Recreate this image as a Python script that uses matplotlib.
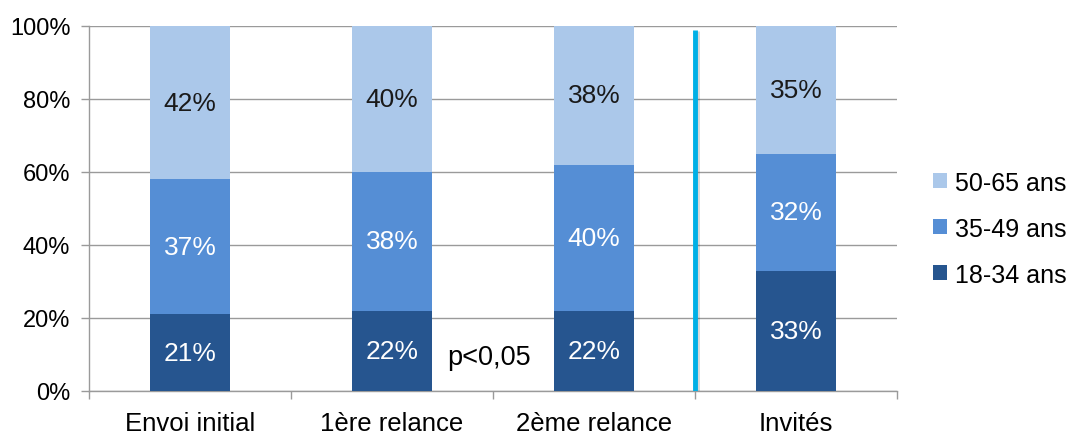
import matplotlib
matplotlib.use("Agg")
import matplotlib.pyplot as plt
import numpy as np
from matplotlib.patches import Patch
import matplotlib.patheffects as pe

plt.rcParams['font.family'] = ['Liberation Sans', 'DejaVu Sans']

categories = ["Envoi initial", "1ère relance", "2ème relance", "Invités"]
age_18_34 = [21, 22, 22, 33]
age_35_49 = [37, 38, 40, 32]
age_50_65 = [42, 40, 38, 35]
series_labels = ["18-34 ans", "35-49 ans", "50-65 ans"]
colors = ["#26558F", "#558ED5", "#ABC8EA"]
text_colors = ["white", "white", "#1a1a1a"]
y_ticks = [0, 20, 40, 60, 80, 100]
y_tick_labels = ["0%", "20%", "40%", "60%", "80%", "100%"]
note = "p<0,05"

fig = plt.figure(figsize=(10.75, 4.35), dpi=100)
ax = fig.add_axes([0.0828, 0.0989, 0.7516, 0.8391])

x = np.arange(len(categories))
width = 0.4
bottom = np.zeros(len(categories))
handles = []
for vals, lab, col, tcol in zip([age_18_34, age_35_49, age_50_65], series_labels, colors, text_colors):
    vals = np.array(vals, dtype=float)
    ax.bar(x, vals, width, bottom=bottom, color=col, zorder=3)
    for xi, b, v in zip(x, bottom, vals):
        ax.text(xi, b + v / 2, f"{int(v)}%", ha="center", va="center",
                fontsize=19, color=tcol, zorder=4)
    bottom += vals
    handles.append(Patch(facecolor=col, label=lab))

ax.set_xlim(-0.5, len(categories) - 0.5)
ax.set_ylim(0, 100)
ax.set_yticks(y_ticks)
ax.set_yticklabels(y_tick_labels, fontsize=17)
ax.yaxis.grid(True, color="#9a9a9a", linewidth=1.0, zorder=0)
ax.tick_params(axis="y", length=6, color="#9a9a9a", width=1.0, pad=7.5)

# category labels centred, ticks on the category boundaries
ax.set_xticks(x)
ax.set_xticklabels(categories, fontsize=18.5)
ax.tick_params(axis="x", length=0, pad=14.5)
ax.set_xticks(np.arange(len(categories) + 1) - 0.5, minor=True)
ax.tick_params(axis="x", which="minor", length=6, color="#9a9a9a", width=1.0)

for side in ["top", "right"]:
    ax.spines[side].set_visible(False)
for side in ["left", "bottom"]:
    ax.spines[side].set_color("#9a9a9a")
    ax.spines[side].set_linewidth(1.0)

# separator between the relaunch waves and the invited population
ax.plot([2.5, 2.5], [0, 99], color="#00B0E6", linewidth=3.5, zorder=5,
        solid_capstyle="butt",
        path_effects=[pe.SimpleLineShadow(offset=(1.5, -1), alpha=0.15), pe.Normal()])

ax.text(1.48, 9.3, note, ha="center", va="center", fontsize=19.5, color="black", zorder=4)

leg = fig.legend(handles[::-1], series_labels[::-1], loc="center left",
                 bbox_to_anchor=(0.868, 0.472), frameon=False, fontsize=18,
                 handlelength=0.56, handleheight=0.56, handletextpad=0.3,
                 labelspacing=0.88, borderpad=0, borderaxespad=0)

fig.savefig("out.png", dpi=100)
